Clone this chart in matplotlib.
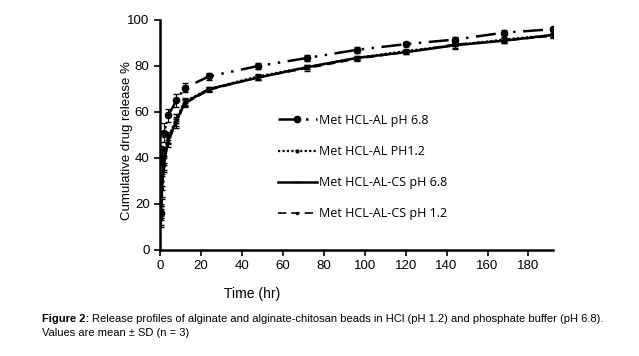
import matplotlib
matplotlib.use('Agg')
import matplotlib.pyplot as plt
from matplotlib.lines import Line2D

# Время отбора проб (ч)
t = [0.5, 1, 2, 4, 8, 12, 24, 48, 72, 96, 120, 144, 168, 192]

# Кумулятивное высвобождение, %
al_68 = [16, 40, 51, 58.5, 65, 70.5, 75.5, 80, 83.5, 87, 89.5, 91.5, 94.5, 96]
al_12 = [17, 30, 41, 49, 57, 64.5, 70, 75.5, 79.5, 83.5, 86.5, 89, 91.5, 93.5]
cs_68 = [15, 28, 38, 48, 56, 64, 70, 75, 79.5, 83.5, 86, 89, 91, 93.5]
cs_12 = [14, 27, 37, 47, 55, 63.5, 69.5, 75, 79, 83, 86, 89.5, 91, 93]

# Стандартные отклонения
sd_al_68 = [3, 4, 4, 3, 3, 2, 1.5, 1.5, 1.2, 1.2, 1, 1.2, 1, 1]
sd_al_12 = [3, 4, 4, 2.5, 2, 1.5, 1, 1, 1, 1, 1, 1, 1, 1]
sd_cs_68 = [4, 5, 3, 2, 2, 1.5, 1, 1, 1, 1, 1, 1.5, 1, 1]
sd_cs_12 = [4, 5, 3, 2, 2, 1.5, 1, 1, 1, 1, 1, 1, 1, 1]

labels = ['Met HCL-AL pH 6.8', 'Met HCL-AL PH1.2',
          'Met HCL-AL-CS pH 6.8', 'Met HCL-AL-CS pH 1.2']

plt.rcParams['font.family'] = ['Liberation Sans', 'DejaVu Sans']

# Стили серий
styles = [
    dict(lw=1.8, linestyle=(0, (8, 3, 1, 3, 1, 3)), marker='o', ms=4.5),
    dict(lw=1.6, linestyle=(0, (1, 1)), marker='.', ms=4),
    dict(lw=1.8, linestyle='-', marker='_', ms=5),
    dict(lw=1.2, linestyle=(0, (5, 3)), marker='.', ms=3),
]

fig = plt.figure(figsize=(6.39, 3.56), dpi=100)
ax = fig.add_axes([160 / 639, 1 - 250 / 356, 393 / 639, 230 / 356])

for y, sd, st in zip([al_68, al_12, cs_68, cs_12],
                     [sd_al_68, sd_al_12, sd_cs_68, sd_cs_12], styles):
    ax.errorbar(t, y, yerr=sd, color='black', capsize=2, elinewidth=0.8, **st)

ax.set_xlim(0, 192)
ax.set_ylim(0, 100)
ax.set_xticks(range(0, 181, 20))
ax.set_yticks(range(0, 101, 20))
for s in ['top', 'right']:
    ax.spines[s].set_visible(False)
for s in ['left', 'bottom']:
    ax.spines[s].set_linewidth(1.8)
ax.tick_params(direction='out', length=4, width=1.2, labelsize=9.5)
ax.set_xlabel('Time (hr)', fontsize=10)
ax.xaxis.set_label_coords((252 - 160) / 393, (250 - 287) / 230)
ax.set_ylabel('Cumulative drug release %', fontsize=9.5)
ax.yaxis.set_label_coords((133 - 160) / 393, (250 - 141) / 230)

handles = [Line2D([], [], color='black', **st) for st in styles]
ax.legend(handles, labels, loc='upper left', bbox_to_anchor=(0.300, 0.592),
          frameon=False, borderpad=0, borderaxespad=0, handlelength=3.1,
          handletextpad=0.15, labelspacing=1.45,
          prop={'family': ['Open Sans', 'DejaVu Sans'], 'size': 9})

# Подпись к рисунку
fig.canvas.draw()
r = fig.canvas.get_renderer()
tb = fig.text(42 / 639, 1 - 322 / 356, 'Figure 2:', fontsize=8, fontweight='bold', va='baseline')
bb = tb.get_window_extent(r)
fig.text(bb.x1 / fig.bbox.width + 0.004, 1 - 322 / 356,
         'Release profiles of alginate and alginate-chitosan beads in HCl (pH 1.2) and phosphate buffer (pH 6.8).',
         fontsize=8, va='baseline')
fig.text(42 / 639, 1 - 336 / 356, 'Values are mean \u00b1 SD (n = 3)', fontsize=8, va='baseline')

plt.savefig('out.png', dpi=100)
